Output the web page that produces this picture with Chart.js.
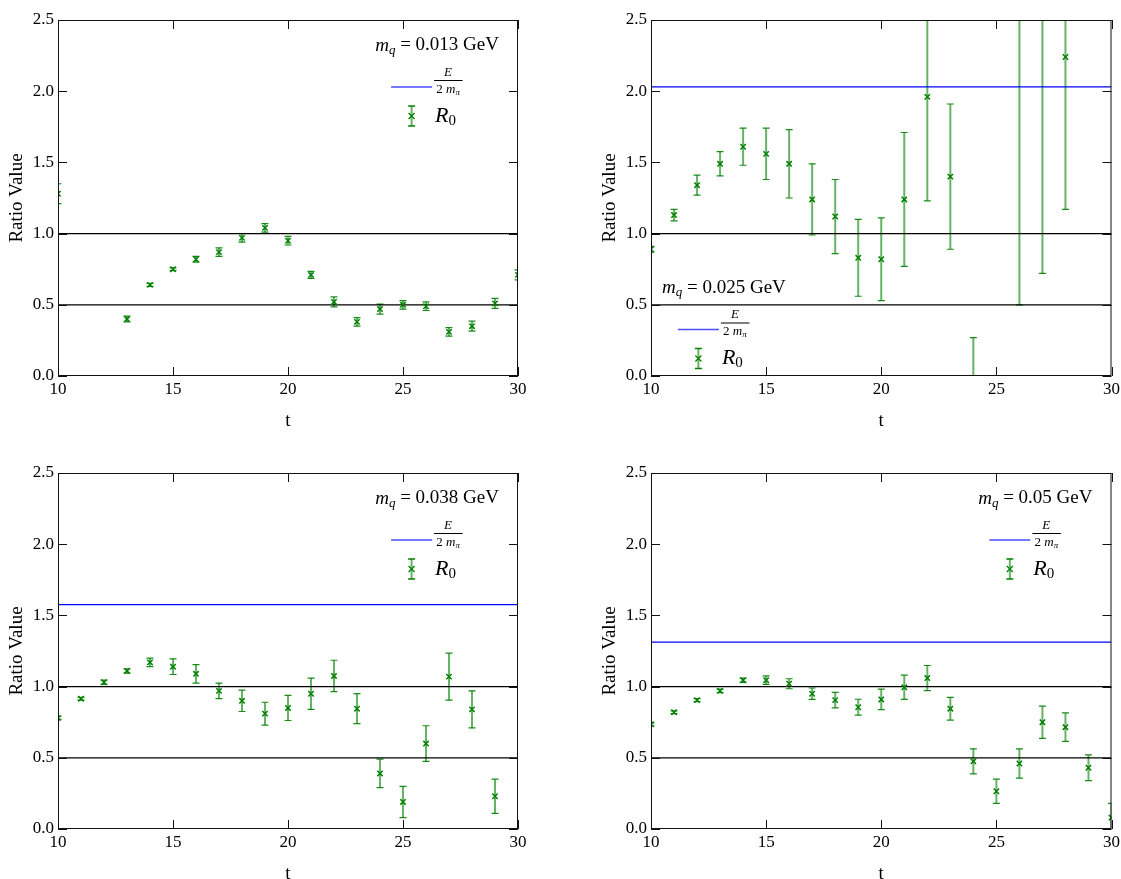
<!DOCTYPE html>
<html>
<head>
<meta charset="utf-8">
<script src="https://cdn.jsdelivr.net/npm/chart.js@4.4.0/dist/chart.umd.min.js"></script>
<style>
  html, body { margin: 0; padding: 0; background: #fff; overflow: hidden; }
  canvas { position: absolute; }
</style>
</head>
<body>
<canvas id="c1" width="545" height="445" style="left:0px;top:0px"></canvas>
<canvas id="c2" width="530" height="445" style="left:593px;top:0px"></canvas>
<canvas id="c3" width="545" height="445" style="left:0px;top:453px"></canvas>
<canvas id="c4" width="530" height="445" style="left:593px;top:453px"></canvas>
<script>
// time slices
const tValues = [10, 11, 12, 13, 14, 15, 16, 17, 18, 19, 20, 21, 22, 23, 24, 25, 26, 27, 28, 29, 30];

// m_q = 0.013 GeV
const r0_013  = [1.28, null, null, 0.40, 0.64, 0.75, 0.82, 0.87, 0.97, 1.04, 0.95, 0.71, 0.52, 0.38, 0.47, 0.50, 0.49, 0.31, 0.35, 0.51, 0.71];
const err_013 = [0.07, null, null, 0.02, 0.01, 0.01, 0.02, 0.03, 0.03, 0.03, 0.03, 0.025, 0.035, 0.03, 0.035, 0.03, 0.03, 0.03, 0.035, 0.035, 0.035];

// m_q = 0.025 GeV
const r0_025  = [0.89, 1.13, 1.34, 1.49, 1.61, 1.56, 1.49, 1.24, 1.12, 0.83, 0.82, 1.24, 1.96, 1.40, -0.40, null, 3.20, 3.00, 2.24, null, null];
const err_025 = [0.02, 0.04, 0.07, 0.085, 0.13, 0.18, 0.24, 0.25, 0.26, 0.27, 0.29, 0.47, 0.73, 0.51, 0.67, null, 2.70, 2.28, 1.07, null, null];

// m_q = 0.038 GeV
const r0_038  = [0.78, 0.915, 1.03, 1.11, 1.17, 1.14, 1.09, 0.97, 0.90, 0.81, 0.85, 0.95, 1.075, 0.845, 0.39, 0.19, 0.60, 1.07, 0.84, 0.23, null];
const err_038 = [0.01, 0.01, 0.015, 0.015, 0.03, 0.055, 0.065, 0.055, 0.075, 0.08, 0.088, 0.11, 0.11, 0.105, 0.10, 0.11, 0.125, 0.165, 0.13, 0.12, null];

// m_q = 0.05 GeV
const r0_050  = [0.735, 0.82, 0.905, 0.97, 1.045, 1.045, 1.02, 0.95, 0.905, 0.855, 0.91, 0.995, 1.06, 0.845, 0.475, 0.265, 0.46, 0.75, 0.715, 0.43, 0.08];
const err_050 = [0.01, 0.01, 0.01, 0.012, 0.015, 0.03, 0.035, 0.04, 0.055, 0.056, 0.072, 0.085, 0.088, 0.08, 0.088, 0.085, 0.103, 0.113, 0.10, 0.09, 0.10];

// E / (2 m_pi) per panel (first one is off the top of the plot)
const ratioE = [null, 2.03, 1.575, 1.313];
const refLines = [1.0, 0.5];
const massLabels = ['0.013', '0.025', '0.038', '0.05'];

const xTicks = [10, 15, 20, 25, 30];
const yTicks = [0, 0.5, 1.0, 1.5, 2.0, 2.5];

const SERIF = '"Liberation Serif", "Times New Roman", serif';
const GREEN = '#008000';

// inward ticks on all four sides + frame, like matplotlib classic
const innerTicks = {
  id: 'innerTicks',
  afterDraw(chart) {
    const { ctx, chartArea: a, scales: { x, y } } = chart;
    ctx.save();
    ctx.strokeStyle = '#111';
    ctx.lineWidth = 1;
    ctx.beginPath();
    xTicks.forEach(v => {
      const px = Math.round(x.getPixelForValue(v)) + 0.5;
      ctx.moveTo(px, a.top); ctx.lineTo(px, a.top + 9);
      ctx.moveTo(px, a.bottom); ctx.lineTo(px, a.bottom - 9);
    });
    yTicks.forEach(v => {
      const py = Math.round(y.getPixelForValue(v)) + 0.5;
      ctx.moveTo(a.left, py); ctx.lineTo(a.left + 9, py);
      ctx.moveTo(a.right, py); ctx.lineTo(a.right - 9, py);
    });
    ctx.stroke();
    ctx.strokeRect(a.left + 0.5, a.top + 0.5, a.right - a.left - 1, a.bottom - a.top - 1);
    ctx.restore();
  }
};

// vertical error bars with caps
const errorBars = {
  id: 'errorBars',
  beforeDatasetsDraw(chart, args, opts) {
    const { ctx, chartArea: a, scales: { x, y } } = chart;
    const vals = opts.values, errs = opts.errors;
    ctx.save();
    ctx.beginPath();
    ctx.rect(a.left, a.top, a.right - a.left, a.bottom - a.top);
    ctx.clip();
    vals.forEach((v, i) => {
      if (v === null || errs[i] === null) return;
      const px = x.getPixelForValue(tValues[i]);
      const y1 = y.getPixelForValue(v - errs[i]);
      const y2 = y.getPixelForValue(v + errs[i]);
      ctx.strokeStyle = 'rgba(0,128,0,0.6)';
      ctx.lineWidth = 2;
      ctx.beginPath(); ctx.moveTo(px, y1); ctx.lineTo(px, y2); ctx.stroke();
      ctx.strokeStyle = 'rgba(0,128,0,0.9)';
      ctx.lineWidth = 1.2;
      ctx.beginPath();
      ctx.moveTo(px - 3.5, y1); ctx.lineTo(px + 3.5, y1);
      ctx.moveTo(px - 3.5, y2); ctx.lineTo(px + 3.5, y2);
      ctx.stroke();
    });
    ctx.restore();
  }
};

function richWidth(ctx, parts) {
  let w = 0;
  parts.forEach(p => { ctx.font = p.f; w += ctx.measureText(p.s).width; });
  return w;
}
function drawRich(ctx, x, y, parts) {
  parts.forEach(p => {
    ctx.font = p.f;
    ctx.fillText(p.s, x, y + (p.dy || 0));
    x += ctx.measureText(p.s).width;
  });
}

// legend box: title, E/2m_pi line, R_0 errorbar
const panelLegend = {
  id: 'panelLegend',
  afterDraw(chart, args, opts) {
    const { ctx, chartArea: a } = chart;
    ctx.save();
    ctx.fillStyle = '#000';
    ctx.textBaseline = 'middle';
    ctx.textAlign = 'left';
    const title = [
      { s: 'm', f: 'italic 19px ' + SERIF },
      { s: 'q', f: 'italic 13px ' + SERIF, dy: 5 },
      { s: ' = ' + opts.mass + ' GeV', f: '19px ' + SERIF }
    ];
    const tw = richWidth(ctx, title);
    let left, cy;
    if (opts.lowerLeft) {
      left = a.left + 11;
      cy = a.bottom - 88;
    } else {
      left = a.right - 19 - tw;
      cy = a.top + 25.5;
    }
    drawRich(ctx, left, cy, title);
    const cx = left + tw / 2;

    // E / 2 m_pi entry
    const lineY = cy + 41.5;
    ctx.strokeStyle = '#4d4dff';
    ctx.lineWidth = 1.3;
    ctx.beginPath(); ctx.moveTo(cx - 46, lineY); ctx.lineTo(cx - 5, lineY); ctx.stroke();
    ctx.font = 'italic 13px ' + SERIF;
    ctx.textAlign = 'center';
    ctx.fillText('E', cx + 11, lineY - 14.5);
    ctx.strokeStyle = '#000';
    ctx.lineWidth = 1;
    ctx.beginPath(); ctx.moveTo(cx - 3, lineY - 6.5); ctx.lineTo(cx + 25.5, lineY - 6.5); ctx.stroke();
    ctx.textAlign = 'left';
    const den = [
      { s: '2 ', f: '13px ' + SERIF },
      { s: 'm', f: 'italic 13px ' + SERIF },
      { s: 'π', f: 'italic 9px ' + SERIF, dy: 3 }
    ];
    drawRich(ctx, cx + 11 - richWidth(ctx, den) / 2, lineY + 2.5, den);

    // R_0 entry
    const rY = cy + 70.5;
    const ix = cx - 25.5;
    ctx.strokeStyle = 'rgba(0,128,0,0.6)';
    ctx.lineWidth = 2;
    ctx.beginPath(); ctx.moveTo(ix, rY - 10); ctx.lineTo(ix, rY + 10); ctx.stroke();
    ctx.strokeStyle = GREEN;
    ctx.lineWidth = 1.3;
    ctx.beginPath();
    ctx.moveTo(ix - 3.5, rY - 10); ctx.lineTo(ix + 3.5, rY - 10);
    ctx.moveTo(ix - 3.5, rY + 10); ctx.lineTo(ix + 3.5, rY + 10);
    ctx.moveTo(ix - 3, rY - 3); ctx.lineTo(ix + 3, rY + 3);
    ctx.moveTo(ix - 3, rY + 3); ctx.lineTo(ix + 3, rY - 3);
    ctx.stroke();
    drawRich(ctx, cx - 2, rY, [
      { s: 'R', f: 'italic 22px ' + SERIF },
      { s: '0', f: '15px ' + SERIF, dy: 5 }
    ]);
    ctx.restore();
  }
};

function hLine(v, color) {
  return {
    data: [{ x: 10, y: v }, { x: 30, y: v }],
    showLine: true,
    borderColor: color,
    borderWidth: 1.2,
    pointRadius: 0,
    clip: 0
  };
}

function makePanel(id, values, errors, eLevel, mass, rightPad, lowerLeft) {
  const datasets = [{
    data: tValues.map((t, i) => ({ x: t, y: values[i] })).filter(p => p.y !== null),
    showLine: false,
    pointStyle: 'crossRot',
    pointRadius: 3.8,
    pointBorderColor: GREEN,
    pointBorderWidth: 1.5,
    clip: 0
  }];
  refLines.forEach(v => datasets.push(hLine(v, '#000')));
  if (eLevel !== null) datasets.push(hLine(eLevel, '#0000ff'));

  new Chart(document.getElementById(id), {
    type: 'scatter',
    data: { datasets },
    options: {
      responsive: false,
      animation: false,
      devicePixelRatio: 1,
      layout: { padding: { top: 20, right: rightPad, bottom: 0, left: 0 } },
      plugins: {
        legend: { display: false },
        tooltip: { enabled: false },
        errorBars: { values, errors },
        panelLegend: { mass, lowerLeft }
      },
      scales: {
        x: {
          type: 'linear', min: 10, max: 30,
          afterBuildTicks: s => { s.ticks = xTicks.map(v => ({ value: v })); },
          afterFit: s => { s.height = 69; },
          grid: { display: false, drawTicks: false },
          border: { display: false },
          ticks: { color: '#000', padding: 3, font: { family: SERIF, size: 17 }, maxRotation: 0, callback: v => String(v) },
          title: { display: true, text: 't', color: '#000', font: { family: SERIF, size: 19 }, padding: { top: 0, bottom: 13 } }
        },
        y: {
          min: 0, max: 2.5,
          afterBuildTicks: s => { s.ticks = yTicks.map(v => ({ value: v })); },
          afterFit: s => { s.width = 58; },
          grid: { display: false, drawTicks: false },
          border: { display: false },
          ticks: { color: '#000', padding: 4, font: { family: SERIF, size: 17 }, callback: v => v.toFixed(1) },
          title: { display: true, text: 'Ratio Value', color: '#000', font: { family: SERIF, size: 19 }, padding: { top: 6, bottom: 0 } }
        }
      }
    },
    plugins: [errorBars, innerTicks, panelLegend]
  });
}

makePanel('c1', r0_013, err_013, ratioE[0], massLabels[0], 27, false);
makePanel('c2', r0_025, err_025, ratioE[1], massLabels[1], 11, true);
makePanel('c3', r0_038, err_038, ratioE[2], massLabels[2], 27, false);
makePanel('c4', r0_050, err_050, ratioE[3], massLabels[3], 11, false);
</script>
</body>
</html>
